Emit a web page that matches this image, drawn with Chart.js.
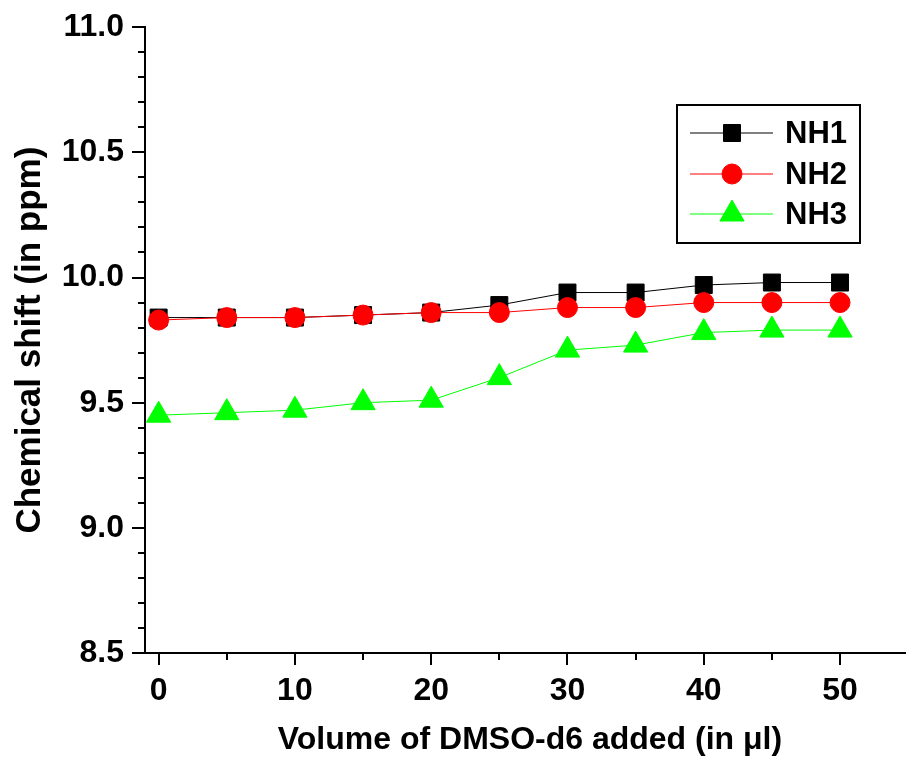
<!DOCTYPE html>
<html>
<head>
<meta charset="utf-8">
<script src="https://cdn.jsdelivr.net/npm/chart.js@4/dist/chart.umd.min.js"></script>
<style>
  html, body { margin: 0; padding: 0; background: #fff; overflow: hidden; }
  #wrap { width: 906px; height: 763px; overflow: hidden; position: relative; }
  #c { display: block; position: absolute; left: 0; top: 0; width: 930px; height: 763px; }
</style>
</head>
<body>
<div id="wrap"><canvas id="c" width="930" height="763"></canvas></div>
<script>
// ── datos ──
const volumes = [0, 5, 10, 15, 20, 25, 30, 35, 40, 45, 50];
const nh1 = [9.84, 9.84, 9.84, 9.85, 9.86, 9.89, 9.94, 9.94, 9.97, 9.98, 9.98];
const nh2 = [9.83, 9.84, 9.84, 9.85, 9.86, 9.86, 9.88, 9.88, 9.90, 9.90, 9.90];
const nh3 = [9.45, 9.46, 9.47, 9.50, 9.51, 9.60, 9.71, 9.73, 9.78, 9.79, 9.79];

const xTicks = [0, 10, 20, 30, 40, 50];
const xMinorTicks = [5, 15, 25, 35, 45];
const yTicks = [8.5, 9.0, 9.5, 10.0, 10.5, 11.0];
const yMinorTicks = [8.6, 8.7, 8.8, 8.9, 9.1, 9.2, 9.3, 9.4, 9.6, 9.7, 9.8, 9.9,
                     10.1, 10.2, 10.3, 10.4, 10.6, 10.7, 10.8, 10.9];

const FONT = "'Liberation Sans', Arial, sans-serif";

// ── series ──
const series = [
    { label: 'NH1', data: nh1, color: '#000000', style: 'rect',     radius: 12, order: 1 },
    { label: 'NH2', data: nh2, color: '#ff0000', style: 'circle',   radius: 10, order: 0 },
    { label: 'NH3', data: nh3, color: '#00ff00', style: 'triangle', radius: 14, order: 2 },
];

function toPoints(arr) {
    return volumes.map((v, i) => ({ x: v, y: arr[i] }));
}

function drawMarker(ctx, style, r, x, y) {
    if (style === 'rect') {
        const h = Math.SQRT1_2 * r;
        ctx.rect(x - h, y - h, 2 * h, 2 * h);
    } else if (style === 'circle') {
        ctx.arc(x, y, r, 0, Math.PI * 2);
    } else {
        ctx.moveTo(x, y - r);
        ctx.lineTo(x + r * Math.sin(Math.PI * 2 / 3), y + r * 0.5);
        ctx.lineTo(x - r * Math.sin(Math.PI * 2 / 3), y + r * 0.5);
        ctx.closePath();
    }
}

// ── minor ticks + legend box ──
const extrasPlugin = {
    id: 'extras',
    afterDraw(chart) {
        const ctx = chart.ctx;
        const { left, bottom } = chart.chartArea;
        const xs = chart.scales.x, ys = chart.scales.y;
        ctx.save();
        ctx.strokeStyle = '#000';
        ctx.lineWidth = 2;
        ctx.beginPath();
        yMinorTicks.forEach(v => {
            const py = Math.round(ys.getPixelForValue(v));
            ctx.moveTo(left - 7, py);
            ctx.lineTo(left, py);
        });
        xMinorTicks.forEach(v => {
            const px = Math.round(xs.getPixelForValue(v));
            ctx.moveTo(px, bottom);
            ctx.lineTo(px, bottom + 7);
        });
        ctx.stroke();

        // leyenda
        ctx.lineWidth = 2;
        ctx.strokeRect(677, 105, 183, 138);
        const rows = [133, 174, 214];
        series.forEach((s, i) => {
            const y = rows[i];
            ctx.strokeStyle = s.color;
            ctx.lineWidth = 1;
            ctx.beginPath();
            ctx.moveTo(690, y);
            ctx.lineTo(773, y);
            ctx.stroke();
            ctx.fillStyle = s.color;
            ctx.beginPath();
            drawMarker(ctx, s.style, s.radius, 732, y);
            ctx.fill();
            ctx.stroke();
            ctx.fillStyle = '#000';
            ctx.font = 'bold 31px ' + FONT;
            ctx.textBaseline = 'middle';
            ctx.textAlign = 'left';
            ctx.fillText(s.label, 785, y + 1);
        });
        ctx.restore();
    }
};

new Chart(document.getElementById('c').getContext('2d'), {
    type: 'line',
    data: {
        datasets: series.map(s => ({
            label: s.label,
            data: toPoints(s.data),
            borderColor: s.color,
            backgroundColor: s.color,
            borderWidth: 1,
            pointStyle: s.style,
            pointRadius: s.radius,
            pointBorderWidth: 1,
            pointBorderColor: s.color,
            pointBackgroundColor: s.color,
            order: s.order,
            tension: 0,
            clip: false,
        }))
    },
    options: {
        responsive: false,
        animation: false,
        devicePixelRatio: 1,
        layout: { padding: { top: 25, right: 0, left: 0, bottom: 0 } },
        plugins: { legend: { display: false }, tooltip: { enabled: false } },
        scales: {
            x: {
                type: 'linear',
                position: 'bottom',
                min: -1,
                max: 55.5,
                afterBuildTicks: s => { s.ticks = xTicks.map(v => ({ value: v })); },
                afterFit: s => { s.height = 110; },
                grid: { drawOnChartArea: false, drawTicks: true, tickLength: 12, color: '#000', lineWidth: 2 },
                border: { display: true, color: '#000', width: 2 },
                ticks: {
                    color: '#000', padding: 7, maxRotation: 0, autoSkip: false,
                    font: { family: FONT, size: 32, weight: 'bold' },
                    callback: v => String(v)
                },
                title: {
                    display: true,
                    text: 'Volume of DMSO-d6 added (in μl)',
                    color: '#000',
                    font: { family: FONT, size: 32, weight: 'bold' },
                    padding: { top: 0, bottom: 4 }
                }
            },
            y: {
                type: 'linear',
                min: 8.5,
                max: 11.0,
                afterBuildTicks: s => { s.ticks = yTicks.map(v => ({ value: v })); },
                afterFit: s => { s.width = 145; },
                grid: { drawOnChartArea: false, drawTicks: true, tickLength: 13, color: '#000', lineWidth: 2 },
                border: { display: true, color: '#000', width: 2 },
                ticks: {
                    color: '#000', padding: 8, autoSkip: false,
                    font: { family: FONT, size: 32, weight: 'bold' },
                    callback: v => v.toFixed(1)
                },
                title: {
                    display: true,
                    text: 'Chemical shift (in ppm)',
                    color: '#000',
                    font: { family: FONT, size: 35, weight: 'bold' },
                    padding: { top: 9, bottom: 0 }
                }
            }
        }
    },
    plugins: [extrasPlugin]
});
</script>
</body>
</html>
